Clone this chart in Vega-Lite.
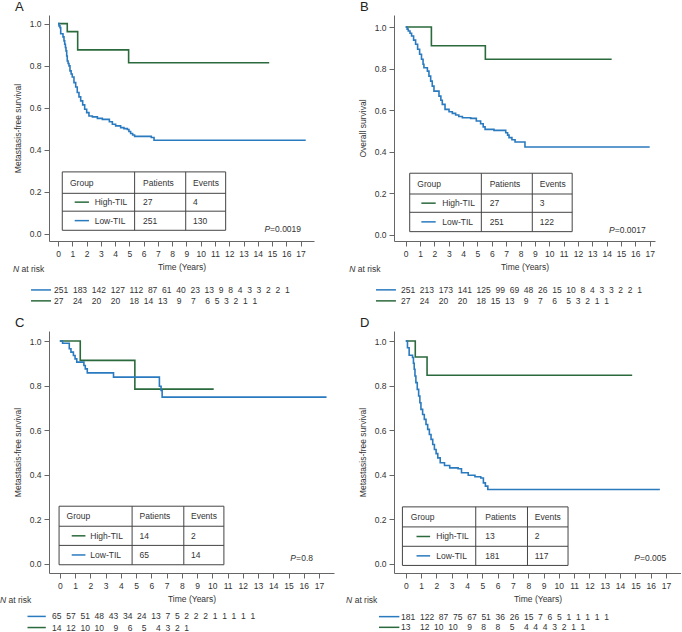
{
"$schema": "https://vega.github.io/schema/vega-lite/v6.json",
"background": "white",
"padding": {"left": 0, "top": 0, "right": 0, "bottom": 0},
"bounds": "flush",
"align": "each",
"columns": 2,
"spacing": {"row": 90, "column": 60},
"datasets": {
"curves": [
{"panel":"A","group":"High-TIL","time":0,"surv":1},{"panel":"A","group":"High-TIL","time":0.65,"surv":0.962},{"panel":"A","group":"High-TIL","time":1.38,"surv":0.875},{"panel":"A","group":"High-TIL","time":4.95,"surv":0.814},{"panel":"A","group":"High-TIL","time":14.8,"surv":0.814},
{"panel":"A","group":"Low-TIL","time":0,"surv":1},{"panel":"A","group":"Low-TIL","time":0.07,"surv":0.989},{"panel":"A","group":"Low-TIL","time":0.14,"surv":0.981},{"panel":"A","group":"Low-TIL","time":0.19,"surv":0.952},{"panel":"A","group":"Low-TIL","time":0.35,"surv":0.937},{"panel":"A","group":"Low-TIL","time":0.42,"surv":0.918},{"panel":"A","group":"Low-TIL","time":0.47,"surv":0.902},{"panel":"A","group":"Low-TIL","time":0.52,"surv":0.886},{"panel":"A","group":"Low-TIL","time":0.56,"surv":0.87},{"panel":"A","group":"Low-TIL","time":0.61,"surv":0.846},{"panel":"A","group":"Low-TIL","time":0.65,"surv":0.822},{"panel":"A","group":"Low-TIL","time":0.71,"surv":0.81},{"panel":"A","group":"Low-TIL","time":0.77,"surv":0.799},{"panel":"A","group":"Low-TIL","time":0.84,"surv":0.775},{"panel":"A","group":"Low-TIL","time":0.92,"surv":0.76},{"panel":"A","group":"Low-TIL","time":1.0,"surv":0.746},{"panel":"A","group":"Low-TIL","time":1.12,"surv":0.719},{"panel":"A","group":"Low-TIL","time":1.24,"surv":0.698},{"panel":"A","group":"Low-TIL","time":1.35,"surv":0.672},{"panel":"A","group":"Low-TIL","time":1.47,"surv":0.651},{"panel":"A","group":"Low-TIL","time":1.59,"surv":0.632},{"panel":"A","group":"Low-TIL","time":1.73,"surv":0.613},{"panel":"A","group":"Low-TIL","time":1.87,"surv":0.592},{"panel":"A","group":"Low-TIL","time":2.01,"surv":0.576},{"panel":"A","group":"Low-TIL","time":2.17,"surv":0.56},{"panel":"A","group":"Low-TIL","time":2.41,"surv":0.556},{"panel":"A","group":"Low-TIL","time":2.76,"surv":0.549},{"panel":"A","group":"Low-TIL","time":3.11,"surv":0.544},{"panel":"A","group":"Low-TIL","time":3.6,"surv":0.533},{"panel":"A","group":"Low-TIL","time":3.81,"surv":0.521},{"panel":"A","group":"Low-TIL","time":4.04,"surv":0.513},{"panel":"A","group":"Low-TIL","time":4.39,"surv":0.505},{"panel":"A","group":"Low-TIL","time":4.62,"surv":0.5},{"panel":"A","group":"Low-TIL","time":4.86,"surv":0.496},{"panel":"A","group":"Low-TIL","time":4.97,"surv":0.486},{"panel":"A","group":"Low-TIL","time":5.09,"surv":0.477},{"panel":"A","group":"Low-TIL","time":5.23,"surv":0.47},{"panel":"A","group":"Low-TIL","time":5.37,"surv":0.463},{"panel":"A","group":"Low-TIL","time":6.54,"surv":0.458},{"panel":"A","group":"Low-TIL","time":6.73,"surv":0.445},{"panel":"A","group":"Low-TIL","time":17.36,"surv":0.445},
{"panel":"B","group":"High-TIL","time":0,"surv":1},{"panel":"B","group":"High-TIL","time":1.79,"surv":0.91},{"panel":"B","group":"High-TIL","time":5.55,"surv":0.845},{"panel":"B","group":"High-TIL","time":14.35,"surv":0.845},
{"panel":"B","group":"Low-TIL","time":0,"surv":1},{"panel":"B","group":"Low-TIL","time":0.1,"surv":0.99},{"panel":"B","group":"Low-TIL","time":0.18,"surv":0.981},{"panel":"B","group":"Low-TIL","time":0.3,"surv":0.97},{"panel":"B","group":"Low-TIL","time":0.41,"surv":0.957},{"panel":"B","group":"Low-TIL","time":0.55,"surv":0.937},{"panel":"B","group":"Low-TIL","time":0.69,"surv":0.917},{"panel":"B","group":"Low-TIL","time":0.83,"surv":0.893},{"panel":"B","group":"Low-TIL","time":0.97,"surv":0.869},{"panel":"B","group":"Low-TIL","time":1.1,"surv":0.845},{"panel":"B","group":"Low-TIL","time":1.21,"surv":0.821},{"panel":"B","group":"Low-TIL","time":1.27,"surv":0.804},{"panel":"B","group":"Low-TIL","time":1.51,"surv":0.788},{"panel":"B","group":"Low-TIL","time":1.62,"surv":0.764},{"panel":"B","group":"Low-TIL","time":1.74,"surv":0.74},{"panel":"B","group":"Low-TIL","time":1.85,"surv":0.716},{"panel":"B","group":"Low-TIL","time":1.97,"surv":0.692},{"panel":"B","group":"Low-TIL","time":2.32,"surv":0.668},{"panel":"B","group":"Low-TIL","time":2.45,"surv":0.648},{"panel":"B","group":"Low-TIL","time":2.55,"surv":0.628},{"panel":"B","group":"Low-TIL","time":2.74,"surv":0.604},{"panel":"B","group":"Low-TIL","time":3.02,"surv":0.593},{"panel":"B","group":"Low-TIL","time":3.25,"surv":0.585},{"panel":"B","group":"Low-TIL","time":3.48,"surv":0.577},{"panel":"B","group":"Low-TIL","time":3.7,"surv":0.57},{"panel":"B","group":"Low-TIL","time":3.95,"surv":0.564},{"panel":"B","group":"Low-TIL","time":4.53,"surv":0.561},{"panel":"B","group":"Low-TIL","time":4.92,"surv":0.548},{"panel":"B","group":"Low-TIL","time":5.22,"surv":0.535},{"panel":"B","group":"Low-TIL","time":5.4,"surv":0.52},{"panel":"B","group":"Low-TIL","time":5.53,"surv":0.508},{"panel":"B","group":"Low-TIL","time":6.15,"surv":0.503},{"panel":"B","group":"Low-TIL","time":6.97,"surv":0.492},{"panel":"B","group":"Low-TIL","time":7.1,"surv":0.48},{"panel":"B","group":"Low-TIL","time":7.2,"surv":0.468},{"panel":"B","group":"Low-TIL","time":7.4,"surv":0.458},{"panel":"B","group":"Low-TIL","time":7.62,"surv":0.447},{"panel":"B","group":"Low-TIL","time":8.31,"surv":0.423},{"panel":"B","group":"Low-TIL","time":17.0,"surv":0.423},
{"panel":"C","group":"High-TIL","time":0,"surv":1},{"panel":"C","group":"High-TIL","time":1.34,"surv":0.913},{"panel":"C","group":"High-TIL","time":4.92,"surv":0.784},{"panel":"C","group":"High-TIL","time":10.09,"surv":0.784},
{"panel":"C","group":"Low-TIL","time":0,"surv":1},{"panel":"C","group":"Low-TIL","time":0.18,"surv":0.99},{"panel":"C","group":"Low-TIL","time":0.62,"surv":0.965},{"panel":"C","group":"Low-TIL","time":0.73,"surv":0.95},{"panel":"C","group":"Low-TIL","time":0.89,"surv":0.935},{"panel":"C","group":"Low-TIL","time":1.0,"surv":0.92},{"panel":"C","group":"Low-TIL","time":1.11,"surv":0.905},{"panel":"C","group":"Low-TIL","time":1.58,"surv":0.89},{"panel":"C","group":"Low-TIL","time":1.67,"surv":0.875},{"panel":"C","group":"Low-TIL","time":1.8,"surv":0.857},{"panel":"C","group":"Low-TIL","time":3.52,"surv":0.838},{"panel":"C","group":"Low-TIL","time":6.53,"surv":0.797},{"panel":"C","group":"Low-TIL","time":6.64,"surv":0.778},{"panel":"C","group":"Low-TIL","time":6.71,"surv":0.748},{"panel":"C","group":"Low-TIL","time":17.49,"surv":0.748},
{"panel":"D","group":"High-TIL","time":0,"surv":1},{"panel":"D","group":"High-TIL","time":0.62,"surv":0.928},{"panel":"D","group":"High-TIL","time":1.39,"surv":0.846},{"panel":"D","group":"High-TIL","time":14.79,"surv":0.846},
{"panel":"D","group":"Low-TIL","time":0,"surv":1},{"panel":"D","group":"Low-TIL","time":0.11,"surv":0.97},{"panel":"D","group":"Low-TIL","time":0.22,"surv":0.936},{"panel":"D","group":"Low-TIL","time":0.44,"surv":0.926},{"panel":"D","group":"Low-TIL","time":0.5,"surv":0.9},{"panel":"D","group":"Low-TIL","time":0.55,"surv":0.873},{"panel":"D","group":"Low-TIL","time":0.6,"surv":0.843},{"panel":"D","group":"Low-TIL","time":0.66,"surv":0.813},{"panel":"D","group":"Low-TIL","time":0.75,"surv":0.783},{"panel":"D","group":"Low-TIL","time":0.84,"surv":0.753},{"panel":"D","group":"Low-TIL","time":0.92,"surv":0.723},{"panel":"D","group":"Low-TIL","time":0.99,"surv":0.693},{"panel":"D","group":"Low-TIL","time":1.1,"surv":0.67},{"panel":"D","group":"Low-TIL","time":1.21,"surv":0.648},{"panel":"D","group":"Low-TIL","time":1.32,"surv":0.625},{"panel":"D","group":"Low-TIL","time":1.43,"surv":0.603},{"panel":"D","group":"Low-TIL","time":1.54,"surv":0.58},{"panel":"D","group":"Low-TIL","time":1.65,"surv":0.558},{"panel":"D","group":"Low-TIL","time":1.76,"surv":0.535},{"panel":"D","group":"Low-TIL","time":1.87,"surv":0.513},{"panel":"D","group":"Low-TIL","time":1.98,"surv":0.494},{"panel":"D","group":"Low-TIL","time":2.09,"surv":0.475},{"panel":"D","group":"Low-TIL","time":2.25,"surv":0.453},{"panel":"D","group":"Low-TIL","time":2.53,"surv":0.441},{"panel":"D","group":"Low-TIL","time":2.87,"surv":0.43},{"panel":"D","group":"Low-TIL","time":3.42,"surv":0.426},{"panel":"D","group":"Low-TIL","time":3.64,"surv":0.408},{"panel":"D","group":"Low-TIL","time":4.08,"surv":0.397},{"panel":"D","group":"Low-TIL","time":4.52,"surv":0.39},{"panel":"D","group":"Low-TIL","time":4.9,"surv":0.385},{"panel":"D","group":"Low-TIL","time":5.07,"surv":0.363},{"panel":"D","group":"Low-TIL","time":5.2,"surv":0.348},{"panel":"D","group":"Low-TIL","time":5.36,"surv":0.333},{"panel":"D","group":"Low-TIL","time":16.6,"surv":0.333}
],
"tables": [
{"panel":"A","group":"High-TIL","patients":"27","events":"4"},{"panel":"A","group":"Low-TIL","patients":"251","events":"130"},
{"panel":"B","group":"High-TIL","patients":"27","events":"3"},{"panel":"B","group":"Low-TIL","patients":"251","events":"122"},
{"panel":"C","group":"High-TIL","patients":"14","events":"2"},{"panel":"C","group":"Low-TIL","patients":"65","events":"14"},
{"panel":"D","group":"High-TIL","patients":"13","events":"2"},{"panel":"D","group":"Low-TIL","patients":"181","events":"117"}
],
"stats": [
{"panel":"A","p":"0.0019"},{"panel":"B","p":"0.0017"},{"panel":"C","p":"0.8"},{"panel":"D","p":"0.005"}
],
"atrisk": [
{"panel":"A","group":"Low-TIL","counts":"251\u00a0\u00a0183\u00a0\u00a0142\u00a0\u00a0127\u00a0\u00a0112\u00a0\u00a087\u00a0\u00a061\u00a0\u00a040\u00a0\u00a023\u00a0\u00a013\u00a0\u00a09\u00a0\u00a08\u00a0\u00a04\u00a0\u00a03\u00a0\u00a03\u00a0\u00a02\u00a0\u00a02\u00a0\u00a01"},
{"panel":"A","group":"High-TIL","counts":"\u00a0\u00a027\u00a0\u00a0\u00a0\u00a024\u00a0\u00a0\u00a0\u00a020\u00a0\u00a0\u00a0\u00a020\u00a0\u00a0\u00a0\u00a018\u00a0\u00a014\u00a0\u00a013\u00a0\u00a0\u00a0\u00a09\u00a0\u00a0\u00a0\u00a07\u00a0\u00a0\u00a0\u00a06\u00a0\u00a05\u00a0\u00a03\u00a0\u00a02\u00a0\u00a01\u00a0\u00a01"},
{"panel":"B","group":"Low-TIL","counts":"251\u00a0\u00a0213\u00a0\u00a0173\u00a0\u00a0141\u00a0\u00a0125\u00a0\u00a099\u00a0\u00a069\u00a0\u00a048\u00a0\u00a026\u00a0\u00a015\u00a0\u00a010\u00a0\u00a08\u00a0\u00a04\u00a0\u00a03\u00a0\u00a03\u00a0\u00a02\u00a0\u00a02\u00a0\u00a01"},
{"panel":"B","group":"High-TIL","counts":"\u00a0\u00a027\u00a0\u00a0\u00a0\u00a024\u00a0\u00a0\u00a0\u00a020\u00a0\u00a0\u00a0\u00a020\u00a0\u00a0\u00a0\u00a018\u00a0\u00a015\u00a0\u00a013\u00a0\u00a0\u00a0\u00a09\u00a0\u00a0\u00a0\u00a07\u00a0\u00a0\u00a0\u00a06\u00a0\u00a0\u00a0\u00a05\u00a0\u00a03\u00a0\u00a02\u00a0\u00a01\u00a0\u00a01"},
{"panel":"C","group":"Low-TIL","counts":"65\u00a0\u00a057\u00a0\u00a051\u00a0\u00a048\u00a0\u00a043\u00a0\u00a034\u00a0\u00a024\u00a0\u00a013\u00a0\u00a07\u00a0\u00a05\u00a0\u00a02\u00a0\u00a02\u00a0\u00a02\u00a0\u00a01\u00a0\u00a01\u00a0\u00a01\u00a0\u00a01\u00a0\u00a01"},
{"panel":"C","group":"High-TIL","counts":"14\u00a0\u00a012\u00a0\u00a010\u00a0\u00a010\u00a0\u00a0\u00a0\u00a09\u00a0\u00a0\u00a0\u00a06\u00a0\u00a0\u00a0\u00a05\u00a0\u00a0\u00a0\u00a04\u00a0\u00a03\u00a0\u00a02\u00a0\u00a01"},
{"panel":"D","group":"Low-TIL","counts":"181\u00a0\u00a0122\u00a0\u00a087\u00a0\u00a075\u00a0\u00a067\u00a0\u00a051\u00a0\u00a036\u00a0\u00a026\u00a0\u00a015\u00a0\u00a07\u00a0\u00a06\u00a0\u00a05\u00a0\u00a01\u00a0\u00a01\u00a0\u00a01\u00a0\u00a01\u00a0\u00a01"},
{"panel":"D","group":"High-TIL","counts":"\u00a0\u00a013\u00a0\u00a0\u00a0\u00a012\u00a0\u00a010\u00a0\u00a010\u00a0\u00a0\u00a0\u00a09\u00a0\u00a0\u00a0\u00a08\u00a0\u00a0\u00a0\u00a08\u00a0\u00a0\u00a0\u00a05\u00a0\u00a0\u00a0\u00a04\u00a0\u00a04\u00a0\u00a04\u00a0\u00a03\u00a0\u00a02\u00a0\u00a01\u00a0\u00a01"}
]
},
"concat": [
{
"width": 265, "height": 226,
"title": {"text": "A"},
"layer": [
{"data": {"name": "curves"}, "transform": [{"filter": "datum.panel == 'A'"}], "mark": {"type": "line", "interpolate": "step-after", "strokeWidth": 1.6},
"encoding": {
"x": {"field": "time", "type": "quantitative", "scale": {"domain": [-0.63, 17.94], "nice": false, "zero": false}, "axis": {"values": [0,1,2,3,4,5,6,7,8,9,10,11,12,13,14,15,16,17], "tickCount": 18, "labelOverlap": false, "title": "Time (Years)"}},
"y": {"field": "surv", "type": "quantitative", "scale": {"domain": [-0.035, 1.041], "nice": false, "zero": false}, "axis": {"values": [0,0.2,0.4,0.6,0.8,1], "tickCount": 6, "format": ".1f", "title": "Metastasis-free survival"}},
"color": {"field": "group", "type": "nominal", "scale": {"domain": ["High-TIL","Low-TIL"], "range": ["#2b6a3c","#2a7abf"]}, "legend": null}}},
{"data": {"name": "stats"}, "transform": [{"filter": "datum.panel == 'A'"}], "mark": {"type": "rect", "fill": "white", "stroke": "#444", "strokeWidth": 1}, "encoding": {"x": {"datum": 0.3}, "x2": {"datum": 11.75}, "y": {"datum": 0.016}, "y2": {"datum": 0.294}}},
{"data": {"name": "stats"}, "transform": [{"filter": "datum.panel == 'A'"}], "mark": {"type": "rule", "color": "#444"}, "encoding": {"x": {"datum": 0.3}, "x2": {"datum": 11.75}, "y": {"datum": 0.192}}},
{"data": {"name": "stats"}, "transform": [{"filter": "datum.panel == 'A'"}], "mark": {"type": "rule", "color": "#444"}, "encoding": {"x": {"datum": 0.3}, "x2": {"datum": 11.75}, "y": {"datum": 0.107}}},
{"data": {"name": "stats"}, "transform": [{"filter": "datum.panel == 'A'"}], "mark": {"type": "rule", "color": "#444"}, "encoding": {"x": {"datum": 5.37}, "y": {"datum": 0.016}, "y2": {"datum": 0.294}}},
{"data": {"name": "stats"}, "transform": [{"filter": "datum.panel == 'A'"}], "mark": {"type": "rule", "color": "#444"}, "encoding": {"x": {"datum": 8.95}, "y": {"datum": 0.016}, "y2": {"datum": 0.294}}},
{"data": {"name": "stats"}, "transform": [{"filter": "datum.panel == 'A'"}], "mark": {"type": "text", "text": "Group", "align": "left", "baseline": "middle"}, "encoding": {"x": {"datum": 0.84}, "y": {"datum": 0.243}}},
{"data": {"name": "stats"}, "transform": [{"filter": "datum.panel == 'A'"}], "mark": {"type": "text", "text": "Patients", "align": "left", "baseline": "middle"}, "encoding": {"x": {"datum": 5.96}, "y": {"datum": 0.243}}},
{"data": {"name": "stats"}, "transform": [{"filter": "datum.panel == 'A'"}], "mark": {"type": "text", "text": "Events", "align": "left", "baseline": "middle"}, "encoding": {"x": {"datum": 9.46}, "y": {"datum": 0.243}}},
{"data": {"name": "tables"}, "transform": [{"filter": "datum.panel == 'A' && datum.group == 'High-TIL'"}], "mark": {"type": "rule", "strokeWidth": 1.5}, "encoding": {"x": {"datum": 1.17}, "x2": {"datum": 2.17}, "y": {"datum": 0.15}, "color": {"field": "group", "type": "nominal"}}},
{"data": {"name": "tables"}, "transform": [{"filter": "datum.panel == 'A' && datum.group == 'High-TIL'"}], "mark": {"type": "text", "align": "left", "baseline": "middle"}, "encoding": {"x": {"datum": 2.57}, "y": {"datum": 0.15}, "text": {"field": "group"}}},
{"data": {"name": "tables"}, "transform": [{"filter": "datum.panel == 'A' && datum.group == 'High-TIL'"}], "mark": {"type": "text", "align": "left", "baseline": "middle"}, "encoding": {"x": {"datum": 5.96}, "y": {"datum": 0.15}, "text": {"field": "patients"}}},
{"data": {"name": "tables"}, "transform": [{"filter": "datum.panel == 'A' && datum.group == 'High-TIL'"}], "mark": {"type": "text", "align": "left", "baseline": "middle"}, "encoding": {"x": {"datum": 9.46}, "y": {"datum": 0.15}, "text": {"field": "events"}}},
{"data": {"name": "tables"}, "transform": [{"filter": "datum.panel == 'A' && datum.group == 'Low-TIL'"}], "mark": {"type": "rule", "strokeWidth": 1.5}, "encoding": {"x": {"datum": 1.17}, "x2": {"datum": 2.17}, "y": {"datum": 0.062}, "color": {"field": "group", "type": "nominal"}}},
{"data": {"name": "tables"}, "transform": [{"filter": "datum.panel == 'A' && datum.group == 'Low-TIL'"}], "mark": {"type": "text", "align": "left", "baseline": "middle"}, "encoding": {"x": {"datum": 2.57}, "y": {"datum": 0.062}, "text": {"field": "group"}}},
{"data": {"name": "tables"}, "transform": [{"filter": "datum.panel == 'A' && datum.group == 'Low-TIL'"}], "mark": {"type": "text", "align": "left", "baseline": "middle"}, "encoding": {"x": {"datum": 5.96}, "y": {"datum": 0.062}, "text": {"field": "patients"}}},
{"data": {"name": "tables"}, "transform": [{"filter": "datum.panel == 'A' && datum.group == 'Low-TIL'"}], "mark": {"type": "text", "align": "left", "baseline": "middle"}, "encoding": {"x": {"datum": 9.46}, "y": {"datum": 0.062}, "text": {"field": "events"}}},
{"data": {"name": "stats"}, "transform": [{"filter": "datum.panel == 'A'"}], "mark": {"type": "text", "text": "P", "fontStyle": "italic", "align": "right", "baseline": "middle"}, "encoding": {"x": {"datum": 14.86}, "y": {"datum": 0.022}}},
{"data": {"name": "stats"}, "transform": [{"filter": "datum.panel == 'A'"}], "mark": {"type": "text", "text": "=", "align": "left", "baseline": "middle"}, "encoding": {"x": {"datum": 14.86}, "y": {"datum": 0.022}}},
{"data": {"name": "stats"}, "transform": [{"filter": "datum.panel == 'A'"}], "mark": {"type": "text", "align": "left", "baseline": "middle"}, "encoding": {"x": {"datum": 15.21}, "y": {"datum": 0.022}, "text": {"field": "p"}}},
{"data": {"name": "stats"}, "transform": [{"filter": "datum.panel == 'A'"}], "mark": {"type": "text", "text": "N", "fontStyle": "italic", "align": "right", "baseline": "middle"}, "encoding": {"x": {"datum": -2.73}, "y": {"datum": -0.168}}},
{"data": {"name": "stats"}, "transform": [{"filter": "datum.panel == 'A'"}], "mark": {"type": "text", "text": "at risk", "align": "left", "baseline": "middle"}, "encoding": {"x": {"datum": -2.56}, "y": {"datum": -0.168}}},
{"data": {"name": "atrisk"}, "transform": [{"filter": "datum.panel == 'A' && datum.group == 'Low-TIL'"}], "mark": {"type": "rule", "strokeWidth": 1.5}, "encoding": {"x": {"datum": -1.89}, "x2": {"datum": -0.49}, "y": {"datum": -0.268}, "color": {"field": "group", "type": "nominal"}}},
{"data": {"name": "atrisk"}, "transform": [{"filter": "datum.panel == 'A' && datum.group == 'High-TIL'"}], "mark": {"type": "rule", "strokeWidth": 1.5}, "encoding": {"x": {"datum": -1.89}, "x2": {"datum": -0.49}, "y": {"datum": -0.32}, "color": {"field": "group", "type": "nominal"}}},
{"data": {"name": "atrisk"}, "transform": [{"filter": "datum.panel == 'A' && datum.group == 'Low-TIL'"}], "mark": {"type": "text", "align": "left", "baseline": "middle"}, "encoding": {"x": {"datum": -0.28}, "y": {"datum": -0.268}, "text": {"field": "counts"}}},
{"data": {"name": "atrisk"}, "transform": [{"filter": "datum.panel == 'A' && datum.group == 'High-TIL'"}], "mark": {"type": "text", "align": "left", "baseline": "middle"}, "encoding": {"x": {"datum": -0.28}, "y": {"datum": -0.32}, "text": {"field": "counts"}}}
]
},
{
"width": 261, "height": 226,
"title": {"text": "B"},
"layer": [
{"data": {"name": "curves"}, "transform": [{"filter": "datum.panel == 'B'"}], "mark": {"type": "line", "interpolate": "step-after", "strokeWidth": 1.6},
"encoding": {
"x": {"field": "time", "type": "quantitative", "scale": {"domain": [-0.815, 17.37], "nice": false, "zero": false}, "axis": {"values": [0,1,2,3,4,5,6,7,8,9,10,11,12,13,14,15,16,17], "tickCount": 18, "labelOverlap": false, "title": "Time (Years)"}},
"y": {"field": "surv", "type": "quantitative", "scale": {"domain": [-0.029, 1.058], "nice": false, "zero": false}, "axis": {"values": [0,0.2,0.4,0.6,0.8,1], "tickCount": 6, "format": ".1f", "title": "Overall survival"}},
"color": {"field": "group", "type": "nominal", "scale": {"domain": ["High-TIL","Low-TIL"], "range": ["#2b6a3c","#2a7abf"]}, "legend": null}}},
{"data": {"name": "stats"}, "transform": [{"filter": "datum.panel == 'B'"}], "mark": {"type": "rect", "fill": "white", "stroke": "#444", "strokeWidth": 1}, "encoding": {"x": {"datum": 0.28}, "x2": {"datum": 11.6}, "y": {"datum": 0.016}, "y2": {"datum": 0.297}}},
{"data": {"name": "stats"}, "transform": [{"filter": "datum.panel == 'B'"}], "mark": {"type": "rule", "color": "#444"}, "encoding": {"x": {"datum": 0.28}, "x2": {"datum": 11.6}, "y": {"datum": 0.197}}},
{"data": {"name": "stats"}, "transform": [{"filter": "datum.panel == 'B'"}], "mark": {"type": "rule", "color": "#444"}, "encoding": {"x": {"datum": 0.28}, "x2": {"datum": 11.6}, "y": {"datum": 0.109}}},
{"data": {"name": "stats"}, "transform": [{"filter": "datum.panel == 'B'"}], "mark": {"type": "rule", "color": "#444"}, "encoding": {"x": {"datum": 5.27}, "y": {"datum": 0.016}, "y2": {"datum": 0.297}}},
{"data": {"name": "stats"}, "transform": [{"filter": "datum.panel == 'B'"}], "mark": {"type": "rule", "color": "#444"}, "encoding": {"x": {"datum": 8.82}, "y": {"datum": 0.016}, "y2": {"datum": 0.297}}},
{"data": {"name": "stats"}, "transform": [{"filter": "datum.panel == 'B'"}], "mark": {"type": "text", "text": "Group", "align": "left", "baseline": "middle"}, "encoding": {"x": {"datum": 0.81}, "y": {"datum": 0.247}}},
{"data": {"name": "stats"}, "transform": [{"filter": "datum.panel == 'B'"}], "mark": {"type": "text", "text": "Patients", "align": "left", "baseline": "middle"}, "encoding": {"x": {"datum": 5.85}, "y": {"datum": 0.247}}},
{"data": {"name": "stats"}, "transform": [{"filter": "datum.panel == 'B'"}], "mark": {"type": "text", "text": "Events", "align": "left", "baseline": "middle"}, "encoding": {"x": {"datum": 9.34}, "y": {"datum": 0.247}}},
{"data": {"name": "tables"}, "transform": [{"filter": "datum.panel == 'B' && datum.group == 'High-TIL'"}], "mark": {"type": "rule", "strokeWidth": 1.5}, "encoding": {"x": {"datum": 1.09}, "x2": {"datum": 2.09}, "y": {"datum": 0.153}, "color": {"field": "group", "type": "nominal"}}},
{"data": {"name": "tables"}, "transform": [{"filter": "datum.panel == 'B' && datum.group == 'High-TIL'"}], "mark": {"type": "text", "align": "left", "baseline": "middle"}, "encoding": {"x": {"datum": 2.55}, "y": {"datum": 0.153}, "text": {"field": "group"}}},
{"data": {"name": "tables"}, "transform": [{"filter": "datum.panel == 'B' && datum.group == 'High-TIL'"}], "mark": {"type": "text", "align": "left", "baseline": "middle"}, "encoding": {"x": {"datum": 5.85}, "y": {"datum": 0.153}, "text": {"field": "patients"}}},
{"data": {"name": "tables"}, "transform": [{"filter": "datum.panel == 'B' && datum.group == 'High-TIL'"}], "mark": {"type": "text", "align": "left", "baseline": "middle"}, "encoding": {"x": {"datum": 9.34}, "y": {"datum": 0.153}, "text": {"field": "events"}}},
{"data": {"name": "tables"}, "transform": [{"filter": "datum.panel == 'B' && datum.group == 'Low-TIL'"}], "mark": {"type": "rule", "strokeWidth": 1.5}, "encoding": {"x": {"datum": 1.09}, "x2": {"datum": 2.09}, "y": {"datum": 0.063}, "color": {"field": "group", "type": "nominal"}}},
{"data": {"name": "tables"}, "transform": [{"filter": "datum.panel == 'B' && datum.group == 'Low-TIL'"}], "mark": {"type": "text", "align": "left", "baseline": "middle"}, "encoding": {"x": {"datum": 2.55}, "y": {"datum": 0.063}, "text": {"field": "group"}}},
{"data": {"name": "tables"}, "transform": [{"filter": "datum.panel == 'B' && datum.group == 'Low-TIL'"}], "mark": {"type": "text", "align": "left", "baseline": "middle"}, "encoding": {"x": {"datum": 5.85}, "y": {"datum": 0.063}, "text": {"field": "patients"}}},
{"data": {"name": "tables"}, "transform": [{"filter": "datum.panel == 'B' && datum.group == 'Low-TIL'"}], "mark": {"type": "text", "align": "left", "baseline": "middle"}, "encoding": {"x": {"datum": 9.34}, "y": {"datum": 0.063}, "text": {"field": "events"}}},
{"data": {"name": "stats"}, "transform": [{"filter": "datum.panel == 'B'"}], "mark": {"type": "text", "text": "P", "fontStyle": "italic", "align": "right", "baseline": "middle"}, "encoding": {"x": {"datum": 14.56}, "y": {"datum": 0.023}}},
{"data": {"name": "stats"}, "transform": [{"filter": "datum.panel == 'B'"}], "mark": {"type": "text", "text": "=", "align": "left", "baseline": "middle"}, "encoding": {"x": {"datum": 14.56}, "y": {"datum": 0.023}}},
{"data": {"name": "stats"}, "transform": [{"filter": "datum.panel == 'B'"}], "mark": {"type": "text", "align": "left", "baseline": "middle"}, "encoding": {"x": {"datum": 14.91}, "y": {"datum": 0.023}, "text": {"field": "p"}}},
{"data": {"name": "stats"}, "transform": [{"filter": "datum.panel == 'B'"}], "mark": {"type": "text", "text": "N", "fontStyle": "italic", "align": "right", "baseline": "middle"}, "encoding": {"x": {"datum": -3.51}, "y": {"datum": -0.163}}},
{"data": {"name": "stats"}, "transform": [{"filter": "datum.panel == 'B'"}], "mark": {"type": "text", "text": "at risk", "align": "left", "baseline": "middle"}, "encoding": {"x": {"datum": -3.34}, "y": {"datum": -0.163}}},
{"data": {"name": "atrisk"}, "transform": [{"filter": "datum.panel == 'B' && datum.group == 'Low-TIL'"}], "mark": {"type": "rule", "strokeWidth": 1.5}, "encoding": {"x": {"datum": -2.07}, "x2": {"datum": -0.68}, "y": {"datum": -0.264}, "color": {"field": "group", "type": "nominal"}}},
{"data": {"name": "atrisk"}, "transform": [{"filter": "datum.panel == 'B' && datum.group == 'High-TIL'"}], "mark": {"type": "rule", "strokeWidth": 1.5}, "encoding": {"x": {"datum": -2.07}, "x2": {"datum": -0.68}, "y": {"datum": -0.317}, "color": {"field": "group", "type": "nominal"}}},
{"data": {"name": "atrisk"}, "transform": [{"filter": "datum.panel == 'B' && datum.group == 'Low-TIL'"}], "mark": {"type": "text", "align": "left", "baseline": "middle"}, "encoding": {"x": {"datum": -0.33}, "y": {"datum": -0.264}, "text": {"field": "counts"}}},
{"data": {"name": "atrisk"}, "transform": [{"filter": "datum.panel == 'B' && datum.group == 'High-TIL'"}], "mark": {"type": "text", "align": "left", "baseline": "middle"}, "encoding": {"x": {"datum": -0.33}, "y": {"datum": -0.317}, "text": {"field": "counts"}}}
]
},
{
"width": 285, "height": 242,
"title": {"text": "C"},
"layer": [
{"data": {"name": "curves"}, "transform": [{"filter": "datum.panel == 'C'"}], "mark": {"type": "line", "interpolate": "step-after", "strokeWidth": 1.6},
"encoding": {
"x": {"field": "time", "type": "quantitative", "scale": {"domain": [-0.71, 17.98], "nice": false, "zero": false}, "axis": {"values": [0,1,2,3,4,5,6,7,8,9,10,11,12,13,14,15,16,17], "tickCount": 18, "labelOverlap": false, "title": "Time (Years)"}},
"y": {"field": "surv", "type": "quantitative", "scale": {"domain": [-0.042, 1.045], "nice": false, "zero": false}, "axis": {"values": [0,0.2,0.4,0.6,0.8,1], "tickCount": 6, "format": ".1f", "title": "Metastasis-free survival"}},
"color": {"field": "group", "type": "nominal", "scale": {"domain": ["High-TIL","Low-TIL"], "range": ["#2b6a3c","#2a7abf"]}, "legend": null}}},
{"data": {"name": "stats"}, "transform": [{"filter": "datum.panel == 'C'"}], "mark": {"type": "rect", "fill": "white", "stroke": "#444", "strokeWidth": 1}, "encoding": {"x": {"datum": -0.05}, "x2": {"datum": 10.76}, "y": {"datum": -0.005}, "y2": {"datum": 0.258}}},
{"data": {"name": "stats"}, "transform": [{"filter": "datum.panel == 'C'"}], "mark": {"type": "rule", "color": "#444"}, "encoding": {"x": {"datum": -0.05}, "x2": {"datum": 10.76}, "y": {"datum": 0.168}}},
{"data": {"name": "stats"}, "transform": [{"filter": "datum.panel == 'C'"}], "mark": {"type": "rule", "color": "#444"}, "encoding": {"x": {"datum": -0.05}, "x2": {"datum": 10.76}, "y": {"datum": 0.082}}},
{"data": {"name": "stats"}, "transform": [{"filter": "datum.panel == 'C'"}], "mark": {"type": "rule", "color": "#444"}, "encoding": {"x": {"datum": 4.74}, "y": {"datum": -0.005}, "y2": {"datum": 0.258}}},
{"data": {"name": "stats"}, "transform": [{"filter": "datum.panel == 'C'"}], "mark": {"type": "rule", "color": "#444"}, "encoding": {"x": {"datum": 8.13}, "y": {"datum": -0.005}, "y2": {"datum": 0.258}}},
{"data": {"name": "stats"}, "transform": [{"filter": "datum.panel == 'C'"}], "mark": {"type": "text", "text": "Group", "align": "left", "baseline": "middle"}, "encoding": {"x": {"datum": 0.44}, "y": {"datum": 0.213}}},
{"data": {"name": "stats"}, "transform": [{"filter": "datum.panel == 'C'"}], "mark": {"type": "text", "text": "Patients", "align": "left", "baseline": "middle"}, "encoding": {"x": {"datum": 5.23}, "y": {"datum": 0.213}}},
{"data": {"name": "stats"}, "transform": [{"filter": "datum.panel == 'C'"}], "mark": {"type": "text", "text": "Events", "align": "left", "baseline": "middle"}, "encoding": {"x": {"datum": 8.6}, "y": {"datum": 0.213}}},
{"data": {"name": "tables"}, "transform": [{"filter": "datum.panel == 'C' && datum.group == 'High-TIL'"}], "mark": {"type": "rule", "strokeWidth": 1.5}, "encoding": {"x": {"datum": 0.78}, "x2": {"datum": 1.68}, "y": {"datum": 0.125}, "color": {"field": "group", "type": "nominal"}}},
{"data": {"name": "tables"}, "transform": [{"filter": "datum.panel == 'C' && datum.group == 'High-TIL'"}], "mark": {"type": "text", "align": "left", "baseline": "middle"}, "encoding": {"x": {"datum": 2.0}, "y": {"datum": 0.125}, "text": {"field": "group"}}},
{"data": {"name": "tables"}, "transform": [{"filter": "datum.panel == 'C' && datum.group == 'High-TIL'"}], "mark": {"type": "text", "align": "left", "baseline": "middle"}, "encoding": {"x": {"datum": 5.23}, "y": {"datum": 0.125}, "text": {"field": "patients"}}},
{"data": {"name": "tables"}, "transform": [{"filter": "datum.panel == 'C' && datum.group == 'High-TIL'"}], "mark": {"type": "text", "align": "left", "baseline": "middle"}, "encoding": {"x": {"datum": 8.6}, "y": {"datum": 0.125}, "text": {"field": "events"}}},
{"data": {"name": "tables"}, "transform": [{"filter": "datum.panel == 'C' && datum.group == 'Low-TIL'"}], "mark": {"type": "rule", "strokeWidth": 1.5}, "encoding": {"x": {"datum": 0.78}, "x2": {"datum": 1.68}, "y": {"datum": 0.039}, "color": {"field": "group", "type": "nominal"}}},
{"data": {"name": "tables"}, "transform": [{"filter": "datum.panel == 'C' && datum.group == 'Low-TIL'"}], "mark": {"type": "text", "align": "left", "baseline": "middle"}, "encoding": {"x": {"datum": 2.0}, "y": {"datum": 0.039}, "text": {"field": "group"}}},
{"data": {"name": "tables"}, "transform": [{"filter": "datum.panel == 'C' && datum.group == 'Low-TIL'"}], "mark": {"type": "text", "align": "left", "baseline": "middle"}, "encoding": {"x": {"datum": 5.23}, "y": {"datum": 0.039}, "text": {"field": "patients"}}},
{"data": {"name": "tables"}, "transform": [{"filter": "datum.panel == 'C' && datum.group == 'Low-TIL'"}], "mark": {"type": "text", "align": "left", "baseline": "middle"}, "encoding": {"x": {"datum": 8.6}, "y": {"datum": 0.039}, "text": {"field": "events"}}},
{"data": {"name": "stats"}, "transform": [{"filter": "datum.panel == 'C'"}], "mark": {"type": "text", "text": "P", "fontStyle": "italic", "align": "right", "baseline": "middle"}, "encoding": {"x": {"datum": 15.49}, "y": {"datum": 0.025}}},
{"data": {"name": "stats"}, "transform": [{"filter": "datum.panel == 'C'"}], "mark": {"type": "text", "text": "=", "align": "left", "baseline": "middle"}, "encoding": {"x": {"datum": 15.49}, "y": {"datum": 0.025}}},
{"data": {"name": "stats"}, "transform": [{"filter": "datum.panel == 'C'"}], "mark": {"type": "text", "align": "left", "baseline": "middle"}, "encoding": {"x": {"datum": 15.83}, "y": {"datum": 0.025}, "text": {"field": "p"}}},
{"data": {"name": "stats"}, "transform": [{"filter": "datum.panel == 'C'"}], "mark": {"type": "text", "text": "N", "fontStyle": "italic", "align": "right", "baseline": "middle"}, "encoding": {"x": {"datum": -3.52}, "y": {"datum": -0.165}}},
{"data": {"name": "stats"}, "transform": [{"filter": "datum.panel == 'C'"}], "mark": {"type": "text", "text": "at risk", "align": "left", "baseline": "middle"}, "encoding": {"x": {"datum": -3.36}, "y": {"datum": -0.165}}},
{"data": {"name": "atrisk"}, "transform": [{"filter": "datum.panel == 'C' && datum.group == 'Low-TIL'"}], "mark": {"type": "rule", "strokeWidth": 1.5}, "encoding": {"x": {"datum": -2.12}, "x2": {"datum": -0.92}, "y": {"datum": -0.237}, "color": {"field": "group", "type": "nominal"}}},
{"data": {"name": "atrisk"}, "transform": [{"filter": "datum.panel == 'C' && datum.group == 'High-TIL'"}], "mark": {"type": "rule", "strokeWidth": 1.5}, "encoding": {"x": {"datum": -2.12}, "x2": {"datum": -0.92}, "y": {"datum": -0.287}, "color": {"field": "group", "type": "nominal"}}},
{"data": {"name": "atrisk"}, "transform": [{"filter": "datum.panel == 'C' && datum.group == 'Low-TIL'"}], "mark": {"type": "text", "align": "left", "baseline": "middle"}, "encoding": {"x": {"datum": -0.51}, "y": {"datum": -0.237}, "text": {"field": "counts"}}},
{"data": {"name": "atrisk"}, "transform": [{"filter": "datum.panel == 'C' && datum.group == 'High-TIL'"}], "mark": {"type": "text", "align": "left", "baseline": "middle"}, "encoding": {"x": {"datum": -0.51}, "y": {"datum": -0.287}, "text": {"field": "counts"}}}
]
},
{
"width": 287, "height": 242,
"title": {"text": "D"},
"layer": [
{"data": {"name": "curves"}, "transform": [{"filter": "datum.panel == 'D'"}], "mark": {"type": "line", "interpolate": "step-after", "strokeWidth": 1.6},
"encoding": {
"x": {"field": "time", "type": "quantitative", "scale": {"domain": [-0.77, 17.98], "nice": false, "zero": false}, "axis": {"values": [0,1,2,3,4,5,6,7,8,9,10,11,12,13,14,15,16,17], "tickCount": 18, "labelOverlap": false, "title": "Time (Years)"}},
"y": {"field": "surv", "type": "quantitative", "scale": {"domain": [-0.042, 1.045], "nice": false, "zero": false}, "axis": {"values": [0,0.2,0.4,0.6,0.8,1], "tickCount": 6, "format": ".1f", "title": "Metastasis-free survival"}},
"color": {"field": "group", "type": "nominal", "scale": {"domain": ["High-TIL","Low-TIL"], "range": ["#2b6a3c","#2a7abf"]}, "legend": null}}},
{"data": {"name": "stats"}, "transform": [{"filter": "datum.panel == 'D'"}], "mark": {"type": "rect", "fill": "white", "stroke": "#444", "strokeWidth": 1}, "encoding": {"x": {"datum": -0.22}, "x2": {"datum": 10.6}, "y": {"datum": -0.008}, "y2": {"datum": 0.255}}},
{"data": {"name": "stats"}, "transform": [{"filter": "datum.panel == 'D'"}], "mark": {"type": "rule", "color": "#444"}, "encoding": {"x": {"datum": -0.22}, "x2": {"datum": 10.6}, "y": {"datum": 0.165}}},
{"data": {"name": "stats"}, "transform": [{"filter": "datum.panel == 'D'"}], "mark": {"type": "rule", "color": "#444"}, "encoding": {"x": {"datum": -0.22}, "x2": {"datum": 10.6}, "y": {"datum": 0.078}}},
{"data": {"name": "stats"}, "transform": [{"filter": "datum.panel == 'D'"}], "mark": {"type": "rule", "color": "#444"}, "encoding": {"x": {"datum": 4.57}, "y": {"datum": -0.008}, "y2": {"datum": 0.255}}},
{"data": {"name": "stats"}, "transform": [{"filter": "datum.panel == 'D'"}], "mark": {"type": "rule", "color": "#444"}, "encoding": {"x": {"datum": 7.95}, "y": {"datum": -0.008}, "y2": {"datum": 0.255}}},
{"data": {"name": "stats"}, "transform": [{"filter": "datum.panel == 'D'"}], "mark": {"type": "text", "text": "Group", "align": "left", "baseline": "middle"}, "encoding": {"x": {"datum": 0.33}, "y": {"datum": 0.21}}},
{"data": {"name": "stats"}, "transform": [{"filter": "datum.panel == 'D'"}], "mark": {"type": "text", "text": "Patients", "align": "left", "baseline": "middle"}, "encoding": {"x": {"datum": 5.19}, "y": {"datum": 0.21}}},
{"data": {"name": "stats"}, "transform": [{"filter": "datum.panel == 'D'"}], "mark": {"type": "text", "text": "Events", "align": "left", "baseline": "middle"}, "encoding": {"x": {"datum": 8.43}, "y": {"datum": 0.21}}},
{"data": {"name": "tables"}, "transform": [{"filter": "datum.panel == 'D' && datum.group == 'High-TIL'"}], "mark": {"type": "rule", "strokeWidth": 1.5}, "encoding": {"x": {"datum": 0.7}, "x2": {"datum": 1.59}, "y": {"datum": 0.122}, "color": {"field": "group", "type": "nominal"}}},
{"data": {"name": "tables"}, "transform": [{"filter": "datum.panel == 'D' && datum.group == 'High-TIL'"}], "mark": {"type": "text", "align": "left", "baseline": "middle"}, "encoding": {"x": {"datum": 1.99}, "y": {"datum": 0.122}, "text": {"field": "group"}}},
{"data": {"name": "tables"}, "transform": [{"filter": "datum.panel == 'D' && datum.group == 'High-TIL'"}], "mark": {"type": "text", "align": "left", "baseline": "middle"}, "encoding": {"x": {"datum": 5.19}, "y": {"datum": 0.122}, "text": {"field": "patients"}}},
{"data": {"name": "tables"}, "transform": [{"filter": "datum.panel == 'D' && datum.group == 'High-TIL'"}], "mark": {"type": "text", "align": "left", "baseline": "middle"}, "encoding": {"x": {"datum": 8.43}, "y": {"datum": 0.122}, "text": {"field": "events"}}},
{"data": {"name": "tables"}, "transform": [{"filter": "datum.panel == 'D' && datum.group == 'Low-TIL'"}], "mark": {"type": "rule", "strokeWidth": 1.5}, "encoding": {"x": {"datum": 0.7}, "x2": {"datum": 1.59}, "y": {"datum": 0.035}, "color": {"field": "group", "type": "nominal"}}},
{"data": {"name": "tables"}, "transform": [{"filter": "datum.panel == 'D' && datum.group == 'Low-TIL'"}], "mark": {"type": "text", "align": "left", "baseline": "middle"}, "encoding": {"x": {"datum": 1.99}, "y": {"datum": 0.035}, "text": {"field": "group"}}},
{"data": {"name": "tables"}, "transform": [{"filter": "datum.panel == 'D' && datum.group == 'Low-TIL'"}], "mark": {"type": "text", "align": "left", "baseline": "middle"}, "encoding": {"x": {"datum": 5.19}, "y": {"datum": 0.035}, "text": {"field": "patients"}}},
{"data": {"name": "tables"}, "transform": [{"filter": "datum.panel == 'D' && datum.group == 'Low-TIL'"}], "mark": {"type": "text", "align": "left", "baseline": "middle"}, "encoding": {"x": {"datum": 8.43}, "y": {"datum": 0.035}, "text": {"field": "events"}}},
{"data": {"name": "stats"}, "transform": [{"filter": "datum.panel == 'D'"}], "mark": {"type": "text", "text": "P", "fontStyle": "italic", "align": "right", "baseline": "middle"}, "encoding": {"x": {"datum": 15.3}, "y": {"datum": 0.025}}},
{"data": {"name": "stats"}, "transform": [{"filter": "datum.panel == 'D'"}], "mark": {"type": "text", "text": "=", "align": "left", "baseline": "middle"}, "encoding": {"x": {"datum": 15.3}, "y": {"datum": 0.025}}},
{"data": {"name": "stats"}, "transform": [{"filter": "datum.panel == 'D'"}], "mark": {"type": "text", "align": "left", "baseline": "middle"}, "encoding": {"x": {"datum": 15.63}, "y": {"datum": 0.025}, "text": {"field": "p"}}},
{"data": {"name": "stats"}, "transform": [{"filter": "datum.panel == 'D'"}], "mark": {"type": "text", "text": "N", "fontStyle": "italic", "align": "right", "baseline": "middle"}, "encoding": {"x": {"datum": -3.5}, "y": {"datum": -0.164}}},
{"data": {"name": "stats"}, "transform": [{"filter": "datum.panel == 'D'"}], "mark": {"type": "text", "text": "at risk", "align": "left", "baseline": "middle"}, "encoding": {"x": {"datum": -3.34}, "y": {"datum": -0.164}}},
{"data": {"name": "atrisk"}, "transform": [{"filter": "datum.panel == 'D' && datum.group == 'Low-TIL'"}], "mark": {"type": "rule", "strokeWidth": 1.5}, "encoding": {"x": {"datum": -1.75}, "x2": {"datum": -0.42}, "y": {"datum": -0.238}, "color": {"field": "group", "type": "nominal"}}},
{"data": {"name": "atrisk"}, "transform": [{"filter": "datum.panel == 'D' && datum.group == 'High-TIL'"}], "mark": {"type": "rule", "strokeWidth": 1.5}, "encoding": {"x": {"datum": -1.75}, "x2": {"datum": -0.42}, "y": {"datum": -0.286}, "color": {"field": "group", "type": "nominal"}}},
{"data": {"name": "atrisk"}, "transform": [{"filter": "datum.panel == 'D' && datum.group == 'Low-TIL'"}], "mark": {"type": "text", "align": "left", "baseline": "middle"}, "encoding": {"x": {"datum": -0.31}, "y": {"datum": -0.238}, "text": {"field": "counts"}}},
{"data": {"name": "atrisk"}, "transform": [{"filter": "datum.panel == 'D' && datum.group == 'High-TIL'"}], "mark": {"type": "text", "align": "left", "baseline": "middle"}, "encoding": {"x": {"datum": -0.31}, "y": {"datum": -0.286}, "text": {"field": "counts"}}}
]
}
],
"config": {
"font": "Liberation Sans",
"view": {"stroke": null},
"axis": {"domainColor": "#666", "tickColor": "#666", "labelColor": "#333", "titleColor": "#333", "labelFontSize": 8.5, "titleFontSize": 8.5, "titleFontWeight": "normal", "tickSize": 5, "grid": false, "labelPadding": 3, "titlePadding": 5, "labelFlush": false, "labelOverlap": false, "labelBound": false},
"axisX": {"tickCount": 18},
"axisY": {"titlePadding": 7, "tickCount": 6},
"text": {"fontSize": 8.5, "color": "#333"},
"title": {"font": "Liberation Sans", "fontSize": 13, "fontWeight": "normal", "color": "#222", "anchor": "start", "frame": "group", "dx": -34, "offset": 1.5, "baseline": "alphabetic"}
}
}
